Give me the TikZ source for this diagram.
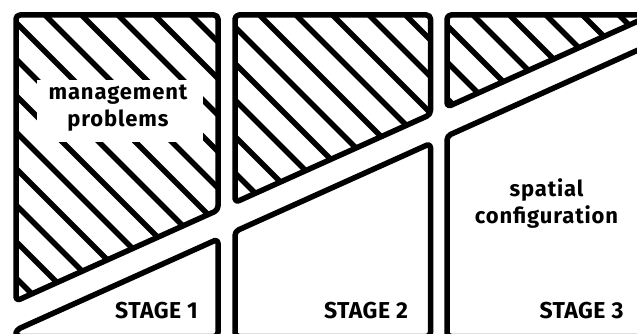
\documentclass[tikz,border=0pt]{standalone}
\usepackage{fontspec}
\setmainfont{Fira Sans}
\newfontfamily\wideFira{Fira Sans}[LetterSpace=4]
\newfontfamily\stageFira{Fira Sans}[LetterSpace=2]
\tikzset{
  border/.style={line width=5.5pt, rounded corners=4pt, line join=round},
  hatchline/.style={line width=5.5pt},
  lbl/.style={font=\wideFira\bfseries\fontsize{22}{27}\selectfont, align=center, inner sep=0pt},
  stagelbl/.style={font=\stageFira\bfseries\fontsize{23}{27}\selectfont, inner sep=0pt},
  whitebox/.style={fill=white, inner sep=0pt, minimum width=166pt, minimum height=62pt},
}
\begin{document}
\begin{tikzpicture}[x=1pt,y=-1pt]
\useasboundingbox (0,0) rectangle (637,334);
% panel 1 hatching
\begin{scope}
\clip (16,15) -- (218,15) -- (218,210.1) -- (16,301) -- cycle;
\foreach \c in {-335,-298.5,...,250} \draw[hatchline] (\c,0) -- ++(400,400);
\end{scope}
% panel 2 hatching
\begin{scope}
\clip (235,15) -- (430.5,15) -- (430.5,114.5) -- (235,202.45) -- cycle;
\foreach \c in {25.5,62,...,430} \draw[hatchline] (\c,0) -- ++(400,400);
\end{scope}
% panel 3 hatching
\begin{scope}
\clip (447,15) -- (651.6,15) -- (447,107.05) -- cycle;
\foreach \c in {312,348.5,...,660} \draw[hatchline] (\c,0) -- ++(400,400);
\end{scope}
% outlines
\draw[border] (16,15) -- (218,15) -- (218,210.1) -- (16,301) -- cycle;
\draw[border] (16,330) -- (218,239.1) -- (218,336.5) -- (16,336.5) -- cycle;
\draw[border] (235,15) -- (430.5,15) -- (430.5,114.5) -- (235,202.45) -- cycle;
\draw[border] (235,231.45) -- (430.5,143.5) -- (430.5,336.5) -- (235,336.5) -- cycle;
\draw[border] (447,15) -- (651.6,15) -- (447,107.05) -- cycle;
\draw[border] (447,136.05) -- (700,22.2) -- (700,336.5) -- (447,336.5) -- cycle;
% labels
\node[whitebox] (mbox) at (120,111) {};
\node[lbl] (mgmt) at (118,108) {management\\problems};
\node[lbl] (spatial) at (546.5,204) {spatial\\configuration};
\node[stagelbl] (s1) at (156.5,310.5) {STAGE 1};
\node[stagelbl] (s2) at (366,310.5) {STAGE 2};
\node[stagelbl] (s3) at (581.5,310.5) {STAGE 3};
\end{tikzpicture}
\end{document}
